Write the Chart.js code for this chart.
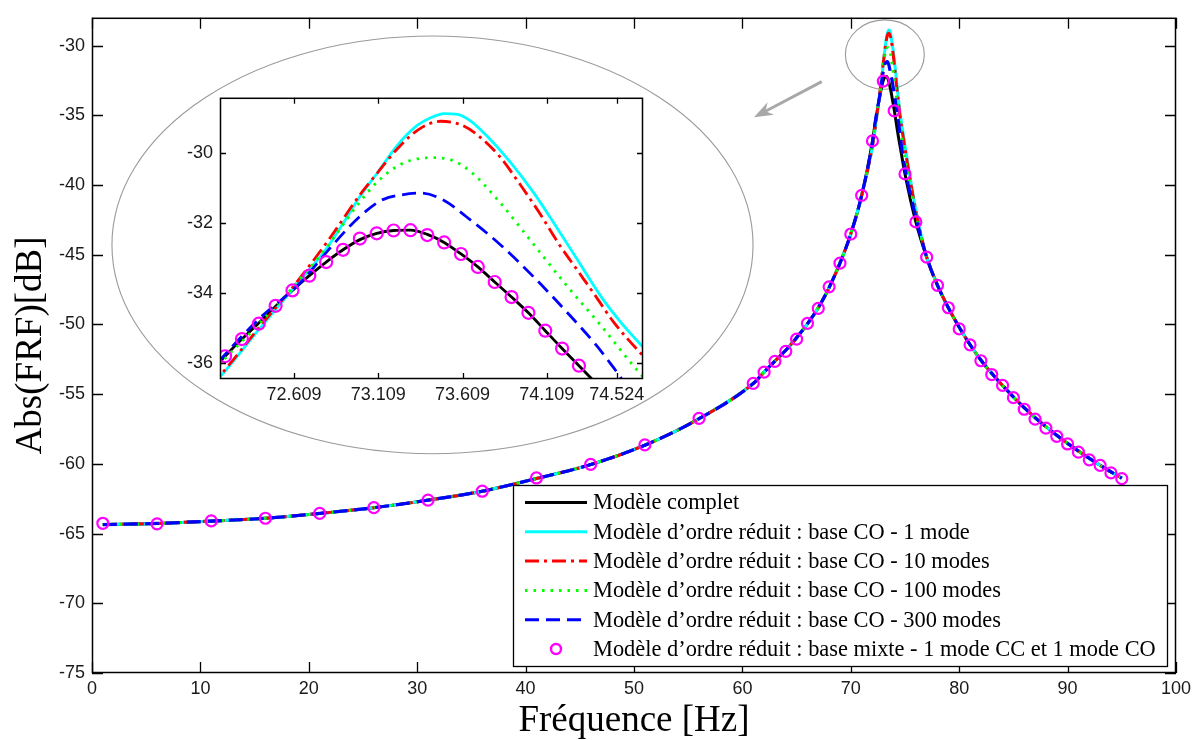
<!DOCTYPE html>
<html><head><meta charset="utf-8">
<script src="https://cdn.jsdelivr.net/npm/chart.js@4.4.1/dist/chart.umd.min.js"></script>
<style>
html,body{margin:0;padding:0;background:#fff;}
#wrap{position:relative;width:1199px;height:740px;overflow:hidden;background:#fff;}
#main{position:absolute;left:0;top:0;}
#inset{position:absolute;left:150px;top:80px;}
</style></head><body>
<div id="wrap"><canvas id="main" width="1199" height="740"></canvas><canvas id="inset" width="510" height="330"></canvas></div>
<script>
// ---------- DATA ----------
const seriesLabels = [
  "Modèle complet",
  "Modèle d’ordre réduit : base CO - 1 mode",
  "Modèle d’ordre réduit : base CO - 10 modes",
  "Modèle d’ordre réduit : base CO - 100 modes",
  "Modèle d’ordre réduit : base CO - 300 modes",
  "Modèle d’ordre réduit : base mixte - 1 mode CC et 1 mode CO"
];
// far from resonance (all models coincide)
const freqLow = [1, 6, 11, 16, 21, 26, 31, 36, 41, 46, 51, 56, 61, 62, 63, 64, 65, 66, 67, 68, 69, 70, 71];
const dbLow = [-64.35, -64.27, -64.1, -63.9, -63.55, -63.14, -62.6, -61.96, -61.05, -60.05, -58.66, -56.76, -54.23, -53.42, -52.62, -51.85, -50.95, -49.95, -48.8, -47.35, -45.6, -43.5, -40.75];
const freqHigh = [77, 78, 79, 80, 81, 82, 83, 84, 85, 86, 87, 88, 89, 90, 91, 92, 93, 94, 95];
const dbHigh = [-45.17, -47.19, -48.8, -50.2, -51.45, -52.55, -53.5, -54.38, -55.2, -55.97, -56.68, -57.33, -57.95, -58.53, -59.08, -59.6, -60.1, -60.57, -61.02];
// resonance region, per model
const completFreq = [72.0, 72.2, 72.3, 72.4, 72.5, 72.6, 72.7, 72.8, 72.9, 73.0, 73.1, 73.2, 73.3, 73.4, 73.5, 73.6, 73.7, 73.8, 73.9, 74.0, 74.1, 74.2, 74.3, 74.4, 74.6, 75, 76];
const completDb = [-36.85, -35.81, -35.32, -34.86, -34.38, -33.93, -33.51, -33.12, -32.77, -32.48, -32.3, -32.22, -32.21, -32.33, -32.56, -32.89, -33.26, -33.69, -34.12, -34.57, -35.08, -35.59, -36.08, -36.57, -37.45, -39.2, -42.64];
const co1Freq = [72.0, 72.17, 72.4, 72.6, 72.8, 72.9, 73.0, 73.1, 73.22, 73.34, 73.42, 73.5, 73.58, 73.66, 73.75, 73.89, 74.03, 74.15, 74.29, 74.43, 74.55, 74.68, 75, 76];
const co1Db = [-37.25, -36.4, -35.05, -33.9, -32.75, -32.02, -31.25, -30.6, -29.8, -29.22, -29.0, -28.88, -28.9, -29.1, -29.5, -30.25, -31.13, -32.0, -33.05, -34.1, -34.85, -35.55, -37.2, -41.8];
const co10Freq = [72.0, 72.17, 72.4, 72.6, 72.82, 73.0, 73.1, 73.22, 73.35, 73.48, 73.6, 73.7, 73.83, 73.95, 74.07, 74.18, 74.29, 74.4, 74.5, 74.68, 75, 76];
const co10Db = [-37.2, -36.36, -35.0, -33.85, -32.45, -31.2, -30.6, -29.9, -29.33, -29.1, -29.2, -29.5, -30.11, -30.9, -31.75, -32.6, -33.35, -34.1, -34.8, -35.8, -37.4, -41.85];
const co100Freq = [72.0, 72.17, 72.4, 72.6, 72.8, 72.9, 73.0, 73.1, 73.2, 73.3, 73.43, 73.55, 73.66, 73.83, 74.03, 74.23, 74.43, 74.64, 75, 76];
const co100Db = [-37.0, -36.03, -34.9, -33.85, -32.72, -32.05, -31.4, -30.85, -30.45, -30.22, -30.14, -30.22, -30.55, -31.41, -32.61, -33.81, -34.93, -36.18, -38.05, -42.05];
const co300Freq = [72.0, 72.17, 72.4, 72.645, 72.8, 72.94, 73.04, 73.14, 73.25, 73.36, 73.5, 73.63, 73.83, 74.03, 74.23, 74.4, 74.5, 74.6, 75, 76];
const co300Db = [-36.9, -35.92, -34.75, -33.72, -32.85, -32.1, -31.65, -31.33, -31.2, -31.15, -31.36, -31.82, -32.61, -33.54, -34.56, -35.48, -36.1, -36.75, -38.8, -42.3];
// mixed basis markers (main view)
const mixteFreq = [1, 6, 11, 16, 21, 26, 31, 36, 41, 46, 51, 56, 61, 62, 63, 64, 65, 66, 67, 68, 69, 70, 71, 72, 73, 74, 75, 76, 77, 78, 79, 80, 81, 82, 83, 84, 85, 86, 87, 88, 89, 90, 91, 92, 93, 94, 95];
const mixteDb = [-64.26, -64.3, -64.09, -63.9, -63.55, -63.14, -62.6, -61.96, -61.01, -60.04, -58.64, -56.74, -54.23, -53.42, -52.64, -51.93, -51.05, -49.92, -48.85, -47.3, -45.6, -43.51, -40.74, -36.83, -32.54, -34.67, -39.2, -42.64, -45.17, -47.19, -48.8, -50.32, -51.46, -52.6, -53.59, -54.37, -55.25, -56.08, -56.79, -57.43, -58.02, -58.57, -59.16, -59.71, -60.11, -60.65, -61.06];
// mixed basis markers (zoom view)
const mixteZoomFreq = [72.2, 72.3, 72.4, 72.5, 72.6, 72.7, 72.8, 72.9, 73.0, 73.1, 73.2, 73.3, 73.4, 73.5, 73.6, 73.7, 73.8, 73.9, 74.0, 74.1, 74.2, 74.3];
const mixteZoomDb = [-35.81, -35.32, -34.88, -34.37, -33.93, -33.51, -33.12, -32.77, -32.45, -32.3, -32.22, -32.21, -32.35, -32.56, -32.89, -33.26, -33.69, -34.12, -34.57, -35.08, -35.59, -36.08];
// tick labels
const mainXTicks = [0, 10, 20, 30, 40, 50, 60, 70, 80, 90, 100];
const mainYTicks = [-75, -70, -65, -60, -55, -50, -45, -40, -35, -30];
const zoomXTicks = [72.609, 73.109, 73.609, 74.109, 74.524];
const zoomYTicks = [-36, -34, -32, -30];

// ---------- annotations (data units) ----------
const bigEllipse = [31.41, -44.29, 29.57, 14.98];
const smallEllipse = [73.14, -30.64, 3.64, 2.49];
const arrowFromTo = [67.32, -32.58, 61.07, -35.14];

// ---------- helpers ----------
const pts = (xs, ys) => xs.map((v, i) => ({x: v, y: ys[i]}));
const full = (fx, fy) => pts(freqLow, dbLow).concat(pts(fx, fy), pts(freqHigh, dbHigh));

const styles = [
  {borderColor: '#000000', borderDash: [], borderWidth: 3},
  {borderColor: '#00ffff', borderDash: [], borderWidth: 3},
  {borderColor: '#ff0000', borderDash: [14, 5, 3, 5], borderWidth: 3},
  {borderColor: '#00ff00', borderDash: [2.5, 6], borderWidth: 3},
  {borderColor: '#0000ff', borderDash: [14, 7], borderWidth: 3.2},
  {borderColor: '#ff00ff', borderDash: [], borderWidth: 2}
];

function buildDatasets(zoom) {
  const lineData = zoom
    ? [pts(completFreq, completDb), pts(co1Freq, co1Db), pts(co10Freq, co10Db), pts(co100Freq, co100Db), pts(co300Freq, co300Db)]
    : [full(completFreq, completDb), full(co1Freq, co1Db), full(co10Freq, co10Db), full(co100Freq, co100Db), full(co300Freq, co300Db)];
  const ds = lineData.map((d, i) => ({
    label: seriesLabels[i], data: d,
    borderColor: styles[i].borderColor, borderDash: styles[i].borderDash,
    borderWidth: zoom ? 2.8 : styles[i].borderWidth,
    pointRadius: 0, fill: false, cubicInterpolationMode: 'monotone',
    order: 5 - i
  }));
  ds.push({
    label: seriesLabels[5],
    data: zoom ? pts(mixteZoomFreq, mixteZoomDb) : pts(mixteFreq, mixteDb),
    showLine: false, borderColor: '#ff00ff', backgroundColor: 'rgba(0,0,0,0)',
    pointRadius: zoom ? 6 : 5.5, pointBorderWidth: 2.2, pointBorderColor: '#ff00ff',
    pointBackgroundColor: 'rgba(0,0,0,0)', order: 0
  });
  return ds;
}

// frame + inward ticks on 4 sides
const frameTicks = {
  id: 'frameTicks',
  afterDatasetsDraw(chart, args, opts) {
    const {ctx, chartArea: a, scales: {x, y}} = chart;
    const L = opts.len || 10;
    ctx.save();
    ctx.strokeStyle = '#000'; ctx.lineWidth = 1.3;
    ctx.beginPath();
    x.ticks.forEach(t => {
      const p = Math.round(x.getPixelForValue(t.value)) + 0.5;
      ctx.moveTo(p, a.bottom); ctx.lineTo(p, a.bottom - L);
      ctx.moveTo(p, a.top); ctx.lineTo(p, a.top + L);
    });
    y.ticks.forEach(t => {
      const p = Math.round(y.getPixelForValue(t.value)) + 0.5;
      ctx.moveTo(a.left, p); ctx.lineTo(a.left + L, p);
      ctx.moveTo(a.right, p); ctx.lineTo(a.right - L, p);
    });
    ctx.stroke();
    ctx.lineWidth = 1.5;
    ctx.strokeRect(a.left + 0.5, a.top + 0.5, a.right - a.left - 1, a.bottom - a.top - 1);
    ctx.restore();
  }
};

// ellipses + arrow
const annot = {
  id: 'annot',
  beforeDatasetsDraw(chart) {
    const {ctx, scales: {x, y}} = chart;
    ctx.save();
    ctx.strokeStyle = '#9a9a9a'; ctx.lineWidth = 1.1;
    [bigEllipse, smallEllipse].forEach(e => {
      const cx = x.getPixelForValue(e[0]), cy = y.getPixelForValue(e[1]);
      const rx = Math.abs(x.getPixelForValue(e[0] + e[2]) - cx);
      const ry = Math.abs(y.getPixelForValue(e[1] + e[3]) - cy);
      ctx.beginPath(); ctx.ellipse(cx, cy, rx, ry, 0, 0, Math.PI * 2); ctx.stroke();
    });
    const x0 = x.getPixelForValue(arrowFromTo[0]), y0 = y.getPixelForValue(arrowFromTo[1]);
    const x1 = x.getPixelForValue(arrowFromTo[2]), y1 = y.getPixelForValue(arrowFromTo[3]);
    const ang = Math.atan2(y1 - y0, x1 - x0);
    const ux = Math.cos(ang), uy = Math.sin(ang), nx = -uy, ny = ux;
    const hl = 19, hw = 7, notch = 13;
    ctx.strokeStyle = '#a8a8a8'; ctx.fillStyle = '#a8a8a8'; ctx.lineWidth = 3;
    ctx.beginPath(); ctx.moveTo(x0, y0); ctx.lineTo(x1 - ux * notch, y1 - uy * notch); ctx.stroke();
    ctx.beginPath();
    ctx.moveTo(x1, y1);
    ctx.lineTo(x1 - ux * hl + nx * hw, y1 - uy * hl + ny * hw);
    ctx.lineTo(x1 - ux * notch, y1 - uy * notch);
    ctx.lineTo(x1 - ux * hl - nx * hw, y1 - uy * hl - ny * hw);
    ctx.closePath(); ctx.fill();
    ctx.restore();
  }
};

// legend box inside plot (bottom right)
const boxLegend = {
  id: 'boxLegend',
  afterDraw(chart) {
    const {ctx, chartArea: a} = chart;
    const w = 654, h = 181, left = a.right - 9 - w, top = a.bottom - 7 - h;
    ctx.save();
    ctx.fillStyle = '#fff'; ctx.fillRect(left, top, w, h);
    ctx.strokeStyle = '#000'; ctx.lineWidth = 1.3;
    ctx.strokeRect(left + 0.5, top + 0.5, w, h);
    ctx.font = "22.4px 'Liberation Serif', 'Times New Roman', serif";
    ctx.textBaseline = 'middle'; ctx.fillStyle = '#000';
    chart.data.datasets.forEach((d, i) => {
      const yy = top + 17.5 + i * 29.3;
      if (d.showLine === false) {
        ctx.strokeStyle = '#ff00ff'; ctx.lineWidth = 2.4; ctx.setLineDash([]);
        ctx.beginPath(); ctx.arc(left + 43, yy, 5, 0, Math.PI * 2); ctx.stroke();
      } else {
        ctx.strokeStyle = d.borderColor; ctx.lineWidth = 3; ctx.setLineDash(d.borderDash || []);
        ctx.beginPath(); ctx.moveTo(left + 12, yy); ctx.lineTo(left + 74, yy); ctx.stroke();
      }
      ctx.setLineDash([]);
      ctx.fillStyle = '#000';
      ctx.fillText(d.label, left + 80, yy + 1);
    });
    ctx.restore();
  }
};

const tickFont = {family: "'Liberation Sans', Arial, sans-serif", size: 18};
const titleFont = {family: "'Liberation Serif', 'Times New Roman', serif", size: 37, lineHeight: 1};

new Chart(document.getElementById('main'), {
  type: 'line',
  data: {datasets: buildDatasets(false)},
  plugins: [annot, frameTicks, boxLegend],
  options: {
    responsive: false, animation: false, devicePixelRatio: 1,
    layout: {padding: {top: 13, right: 23, left: 0, bottom: 0}},
    plugins: {legend: {display: false}, tooltip: {enabled: false}, frameTicks: {len: 11}},
    scales: {
      x: {
        type: 'linear', min: 0, max: 100,
        afterBuildTicks: s => { s.ticks = mainXTicks.map(v => ({value: v})); },
        afterFit: s => { s.height = 67; },
        grid: {display: false, drawTicks: false, tickLength: 0}, border: {display: false},
        ticks: {font: tickFont, color: '#1a1a1a', padding: 5, maxRotation: 0, autoSkip: false},
        title: {display: true, text: 'Fréquence [Hz]', font: titleFont, color: '#000', padding: {top: 0, bottom: 0}}
      },
      y: {
        type: 'linear', min: -75, max: -28,
        afterBuildTicks: s => { s.ticks = mainYTicks.map(v => ({value: v})); },
        afterFit: s => { s.width = 92; },
        grid: {display: false, drawTicks: false, tickLength: 0}, border: {display: false},
        ticks: {font: tickFont, color: '#1a1a1a', padding: 7, autoSkip: false},
        title: {display: true, text: 'Abs(FRF)[dB]', font: titleFont, color: '#000', padding: {top: 13, bottom: 0}}
      }
    }
  }
});

new Chart(document.getElementById('inset'), {
  type: 'line',
  data: {datasets: buildDatasets(true)},
  plugins: [frameTicks],
  options: {
    responsive: false, animation: false, devicePixelRatio: 1,
    layout: {padding: {top: 9, right: 17, left: 0, bottom: 0}},
    plugins: {legend: {display: false}, tooltip: {enabled: false}, frameTicks: {len: 6}},
    scales: {
      x: {
        type: 'linear', min: 72.17, max: 74.68,
        afterBuildTicks: s => { s.ticks = zoomXTicks.map(v => ({value: v})); },
        afterFit: s => { s.height = 31; },
        grid: {display: false, drawTicks: false, tickLength: 0}, border: {display: false},
        ticks: {font: tickFont, color: '#1a1a1a', padding: 5, maxRotation: 0, autoSkip: false,
                callback: v => Number(v).toFixed(3)}
      },
      y: {
        type: 'linear', min: -36.46, max: -28.43,
        afterBuildTicks: s => { s.ticks = zoomYTicks.map(v => ({value: v})); },
        afterFit: s => { s.width = 70; },
        grid: {display: false, drawTicks: false, tickLength: 0}, border: {display: false},
        ticks: {font: tickFont, color: '#1a1a1a', padding: 7, autoSkip: false}
      }
    }
  }
});
</script>
</body></html>
